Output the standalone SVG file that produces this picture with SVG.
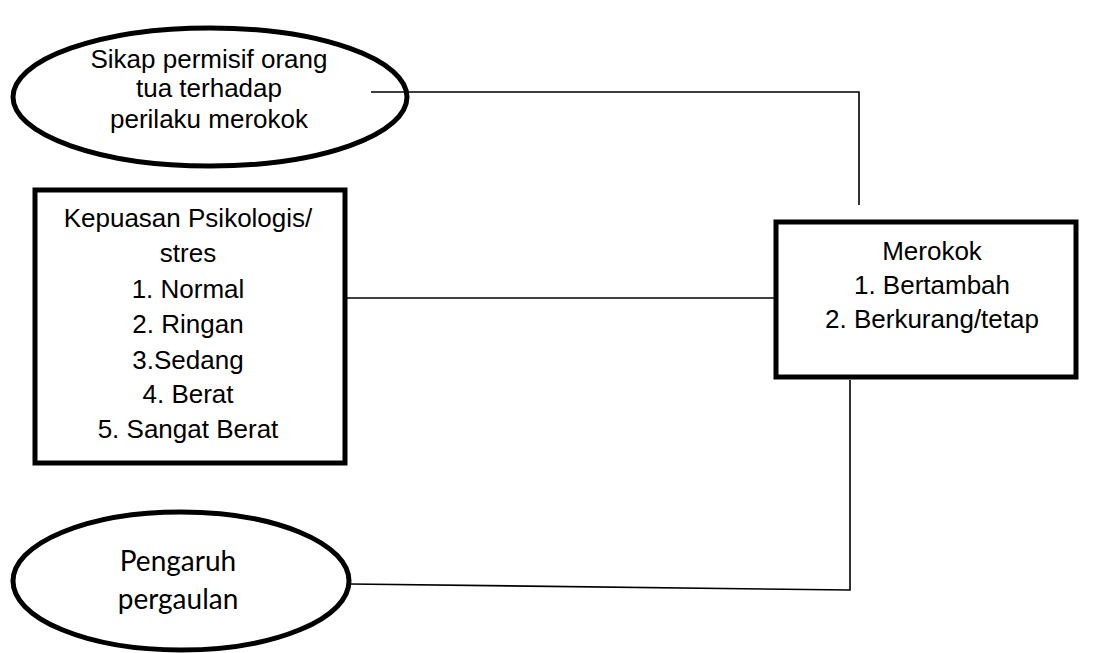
<svg xmlns="http://www.w3.org/2000/svg" width="1097" height="653" viewBox="0 0 1097 653">
<style>
.node{fill:#fff;stroke:#000;stroke-width:5}
.t{font-family:"Liberation Sans",Arial,sans-serif;font-size:26px;fill:#000;text-anchor:middle}
.c{font-family:Lato,"Open Sans",sans-serif;font-size:28px;fill:#000;text-anchor:middle}
.conn{fill:none;stroke:#000;stroke-width:1.6}
</style>
<rect width="1097" height="653" fill="#fff"/>
<g id="connectors">
<polyline class="conn" points="371,92 859,92 859,205"/>
<line class="conn" x1="347" y1="298" x2="775" y2="298"/>
<polyline class="conn" points="350,584 850,590 850,380"/>
</g>
<g id="node-sikap">
<ellipse class="node" cx="210" cy="97" rx="197" ry="69" style="fill:none"/>
<text class="t" x="209" y="68">Sikap permisif orang</text>
<text class="t" x="209" y="97">tua terhadap</text>
<text class="t" x="209" y="128">perilaku merokok</text>
</g>
<g id="node-kepuasan">
<rect class="node" x="35" y="190" width="310" height="273"/>
<text class="t" x="188" y="227">Kepuasan Psikologis/</text>
<text class="t" x="188" y="262">stres</text>
<text class="t" x="188" y="298">1. Normal</text>
<text class="t" x="188" y="333">2. Ringan</text>
<text class="t" x="188" y="369">3.Sedang</text>
<text class="t" x="188" y="403">4. Berat</text>
<text class="t" x="188" y="438">5. Sangat Berat</text>
</g>
<g id="node-merokok">
<rect class="node" x="776" y="222" width="300" height="155"/>
<text class="t" x="932" y="260">Merokok</text>
<text class="t" x="932" y="294">1. Bertambah</text>
<text class="t" x="932" y="328">2. Berkurang/tetap</text>
</g>
<g id="node-pengaruh">
<ellipse class="node" cx="181" cy="581" rx="168" ry="69"/>
<text class="c" x="178" y="571">Pengaruh</text>
<text class="c" x="178" y="609">pergaulan</text>
</g>
</svg>
